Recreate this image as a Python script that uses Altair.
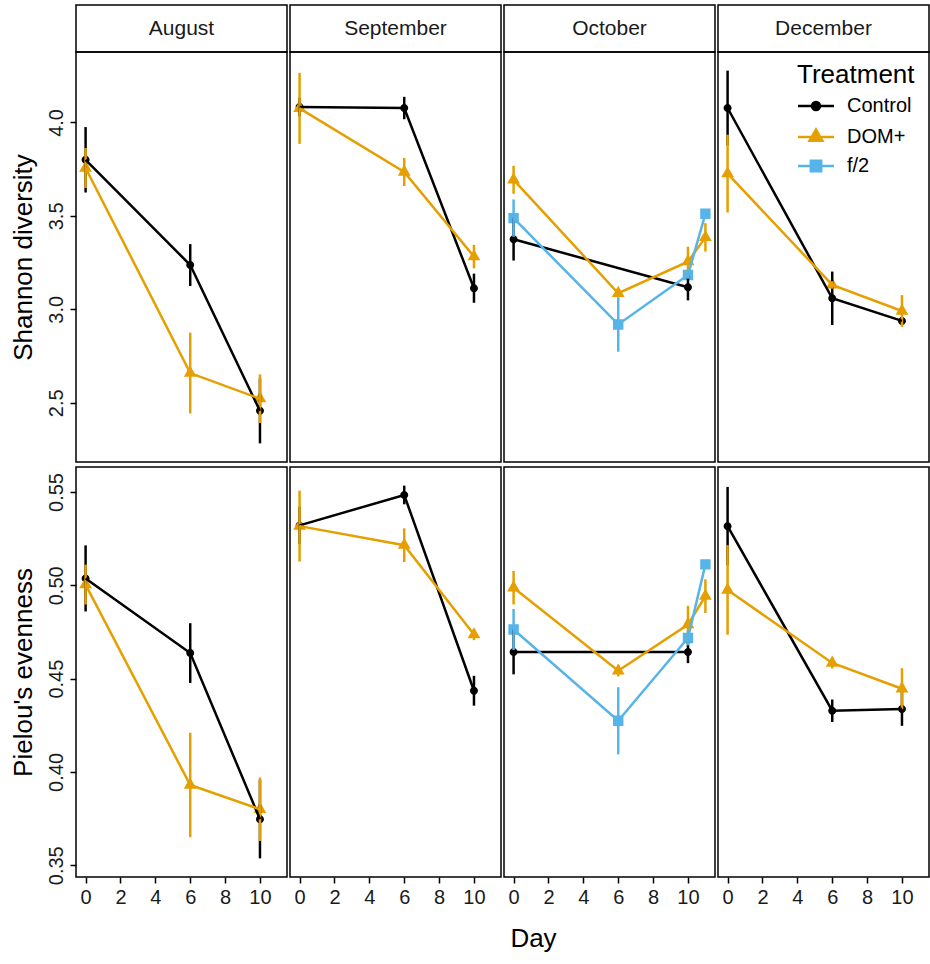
import altair as alt
import pandas as pd

# ---------------- data ----------------
months = ["August", "September", "October", "December"]
treatments = ["Control", "DOM+", "f/2"]
palette = ["#000000", "#E69F00", "#56B4E9"]

month = (["August"] * 6 + ["September"] * 6 + ["October"] * 10 + ["December"] * 6)
treatment = (["Control"] * 3 + ["DOM+"] * 3
             + ["Control"] * 3 + ["DOM+"] * 3
             + ["Control"] * 2 + ["DOM+"] * 4 + ["f/2"] * 4
             + ["Control"] * 3 + ["DOM+"] * 3)
day = [0, 6, 10, 0, 6, 10,
       0, 6, 10, 0, 6, 10,
       0, 10, 0, 6, 10, 11, 0, 6, 10, 11,
       0, 6, 10, 0, 6, 10]
shannon = [3.800, 3.237, 2.457, 3.756, 2.659, 2.522,
           4.082, 4.077, 3.113, 4.075, 3.735, 3.282,
           3.375, 3.118, 3.693, 3.086, 3.255, 3.385, 3.488, 2.919, 3.184, 3.511,
           4.077, 3.059, 2.938, 3.726, 3.131, 2.991]
shannon_se = [0.175, 0.112, 0.174, 0.107, 0.216, 0.130,
              0.050, 0.060, 0.078, 0.190, 0.075, 0.063,
              0.114, 0.070, 0.075, 0.015, 0.080, 0.076, 0.100, 0.146, 0.020, 0.010,
              0.200, 0.143, 0.020, 0.208, 0.020, 0.085]
pielou = [0.5037, 0.4637, 0.3747, 0.5004, 0.3930, 0.3800,
          0.5321, 0.5484, 0.4435, 0.5317, 0.5215, 0.4736,
          0.4643, 0.4643, 0.4987, 0.4542, 0.4790, 0.4942, 0.4763, 0.4274, 0.4718, 0.5112,
          0.5317, 0.4328, 0.4337, 0.4975, 0.4584, 0.4446]
pielou_se = [0.0177, 0.0160, 0.0210, 0.0107, 0.0280, 0.0170,
             0.0100, 0.0050, 0.0080, 0.0190, 0.0090, 0.0030,
             0.0120, 0.0060, 0.0090, 0.0030, 0.0100, 0.0090, 0.0110, 0.0180, 0.0040, 0.0020,
             0.0210, 0.0060, 0.0090, 0.0240, 0.0030, 0.0110]

x_ticks = [0, 2, 4, 6, 8, 10]
shannon_ticks = [2.5, 3.0, 3.5, 4.0]
pielou_ticks = [0.35, 0.40, 0.45, 0.50, 0.55]

df = pd.DataFrame({
    "month": month, "treatment": treatment, "day": day,
    "shannon": shannon, "shannon_se": shannon_se,
    "pielou": pielou, "pielou_se": pielou_se,
})
for m in ["shannon", "pielou"]:
    df[m + "_lo"] = df[m] - df[m + "_se"]
    df[m + "_hi"] = df[m] + df[m + "_se"]


def padded(lo, hi):
    span = hi - lo
    return [lo - 0.05 * span, hi + 0.05 * span]


x_dom = padded(min(day), max(day))
sh_dom = padded(df["shannon_lo"].min(), df["shannon_hi"].max())
pi_dom = padded(df["pielou_lo"].min(), df["pielou_hi"].max())

# ---------------- style ----------------
FONT = "Liberation Sans"
W, H, SH = 211, 410, 47

# marker paths (a zero-area line segment + filled marker; the line only shows in the legend)
shape_paths = [
    "M-4.5,0H4.5M-1,0A1,1 0 1,0 1,0A1,1 0 1,0 -1,0Z",
    "M-4.5,0H4.5M0,-1.85L1.6,0.92L-1.6,0.92Z",
    "M-4.5,0H4.5M-1.3,-1.3H1.3V1.3H-1.3Z",
]
color_scale = alt.Scale(domain=treatments, range=palette)
shape_scale = alt.Scale(domain=treatments, range=shape_paths)

legend = alt.Legend(
    title="Treatment", orient="none", legendX=79, legendY=10,
    titleFontSize=26, titleFontWeight="normal", titleColor="black", titlePadding=8,
    labelFontSize=20, labelColor="black",
    symbolSize=64, symbolStrokeWidth=2.5, symbolOffset=9, labelOffset=21,
    rowPadding=8, padding=0,
)


def panel(m, metric, dom, ticks, fmt, title, first, bottom, show_legend):
    base = alt.Chart(df).transform_filter(alt.datum.month == m)
    xaxis = alt.Axis(values=x_ticks, format="d", title=None) if bottom else None
    yaxis = (alt.Axis(values=ticks, format=fmt, title=title, labelAngle=270,
                      labelAlign="center", labelBaseline="bottom")
             if first else None)
    xs = alt.Scale(domain=x_dom, nice=False, zero=False)
    ys = alt.Scale(domain=dom, nice=False, zero=False)
    X = alt.X("day:Q", scale=xs, axis=xaxis)
    col = alt.Color("treatment:N", scale=color_scale, legend=None)
    leg = legend if show_legend else None
    pts = base.mark_point(filled=True, size=64, opacity=1).encode(
        x=X,
        y=alt.Y(f"{metric}:Q", scale=ys, axis=yaxis),
        color=alt.Color("treatment:N", scale=color_scale, legend=leg),
        shape=alt.Shape("treatment:N", scale=shape_scale, legend=leg),
        stroke=alt.Stroke("treatment:N", scale=color_scale, legend=leg),
        strokeWidth=alt.value(0),
    )
    bars = base.mark_rule(strokeWidth=2.5).encode(
        x=X,
        y=alt.Y(f"{metric}_lo:Q", scale=ys, axis=yaxis),
        y2=f"{metric}_hi:Q",
        color=col,
    )
    lines = base.mark_line(strokeWidth=2.5).encode(
        x=X, y=alt.Y(f"{metric}:Q", scale=ys, axis=yaxis), color=col,
    )
    # points layer first so its (enabled) legend wins when legends are merged
    return alt.layer(pts, bars, lines).properties(width=W, height=H)


strip_df = pd.DataFrame({"month": months})


def strip(m):
    base = alt.Chart(strip_df).transform_filter(alt.datum.month == m)
    box = base.mark_rect(fill="white", stroke="black", strokeWidth=1.5)
    txt = base.mark_text(font=FONT, fontSize=21, color="#1a1a1a").encode(text="month:N")
    return alt.layer(box, txt).properties(width=W, height=SH)


strips = [strip(m) for m in months]
tops = [
    panel(m, "shannon", sh_dom, shannon_ticks, ".1f", "Shannon diversity",
          i == 0, False, m == "December")
    for i, m in enumerate(months)
]
bottoms = [
    panel(m, "pielou", pi_dom, pielou_ticks, ".2f", "Pielou's evenness",
          i == 0, True, False)
    for i, m in enumerate(months)
]

indep = dict(color="independent", shape="independent", stroke="independent")
upper = alt.concat(*strips, *tops, columns=4,
                   spacing={"row": 0, "column": 3}, bounds="flush").resolve_legend(**indep)
lower = alt.hconcat(*bottoms, spacing=3, bounds="flush").resolve_legend(**indep)

chart = (
    alt.vconcat(
        upper, lower, spacing=3,
        title=alt.TitleParams("Day", orient="bottom", anchor="middle", fontSize=26,
                              fontWeight="normal", font=FONT, color="black",
                              offset=18, dx=64),
    )
    .resolve_legend(**indep)
    .properties(padding={"left": 9, "top": 4, "right": 0, "bottom": 5})
    .configure_view(stroke="black", strokeWidth=1.5)
    .configure_axis(
        labelFont=FONT, titleFont=FONT, labelFontSize=20, titleFontSize=26,
        titleFontWeight="normal", labelColor="#1a1a1a", titleColor="black",
        tickColor="black", tickWidth=1.5, tickSize=6, domain=False, grid=False,
        labelPadding=4, titlePadding=10,
    )
    .configure_legend(labelFont=FONT, titleFont=FONT)
    .configure_title(font=FONT)
)

chart.save("out.html", embed_options={"renderer": "svg", "actions": False})
